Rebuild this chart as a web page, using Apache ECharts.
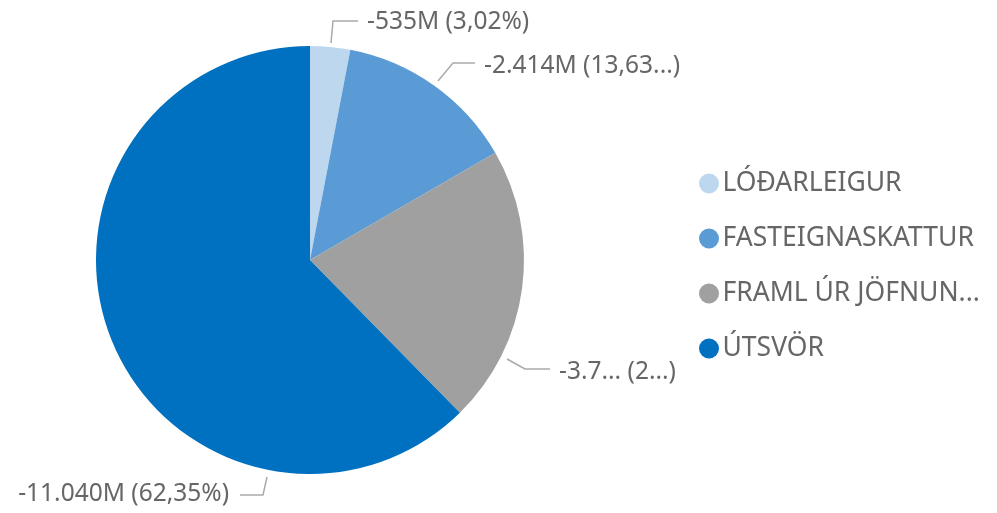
<!DOCTYPE html>
<html>
<head>
<meta charset="utf-8">
<script src="https://cdn.jsdelivr.net/npm/echarts@6/dist/echarts.min.js"></script>
<style>
  html, body { margin: 0; padding: 0; background: #fff; }
  #chart { width: 997px; height: 513px; }
</style>
</head>
<body>
<div id="chart"></div>
<script>
// flokkar og upphæðir (milljónir)
const categories = ['LÓÐARLEIGUR', 'FASTEIGNASKATTUR', 'FRAML ÚR JÖFNUN...', 'ÚTSVÖR'];
const values = [-535, -2414, -3717, -11040];
const labelTexts = ['-535M (3,02%)', '-2.414M (13,63...)', '-3.7... (2...)', '-11.040M (62,35%)'];
const colors = ['#BDD7EE', '#5B9BD5', '#A0A0A0', '#0070C0'];

// where the data labels sit (power bi style placement)
const labelPlaces = [
  { x: 367, y: 22, align: 'left', line: [[331, 43], [333, 21], [358, 21]] },
  { x: 484, y: 66, align: 'left', line: [[438, 81], [453, 63], [475, 63]] },
  { x: 559, y: 372, align: 'left', line: [[507, 359], [525, 369], [550, 369]] },
  { x: 229, y: 494, align: 'right', line: [[267, 477], [263, 495], [240, 495]] }
];

const chart = echarts.init(document.getElementById('chart'));

const pieData = categories.map((name, i) => ({
  name: name,
  value: Math.abs(values[i]),
  itemStyle: { color: colors[i] },
  label: { formatter: labelTexts[i] }
}));

chart.setOption({
  animation: false,
  textStyle: { fontFamily: 'Noto Sans' },
  legend: {
    orient: 'vertical',
    left: 694,
    top: 165,
    icon: 'circle',
    itemWidth: 23,
    itemHeight: 20,
    itemGap: 28,
    textStyle: { fontSize: 26.5, color: '#666666', lineHeight: 25, padding: [0, 0, 0, -3] },
    data: categories
  },
  series: [
    {
      type: 'pie',
      center: [310, 260],
      radius: [0, 214],
      startAngle: 90,
      clockwise: true,
      avoidLabelOverlap: false,
      label: {
        show: true,
        fontSize: 24.5,
        color: '#666666'
      },
      labelLine: {
        show: true,
        length: 22,
        length2: 26,
        lineStyle: { color: '#AAAAAA', width: 1.5 }
      },
      labelLayout: function (params) {
        const p = labelPlaces[params.dataIndex];
        return {
          x: p.x,
          y: p.y,
          align: p.align,
          verticalAlign: 'middle',
          labelLinePoints: p.line
        };
      },
      emphasis: { disabled: true },
      data: pieData
    }
  ]
});
</script>
</body>
</html>
